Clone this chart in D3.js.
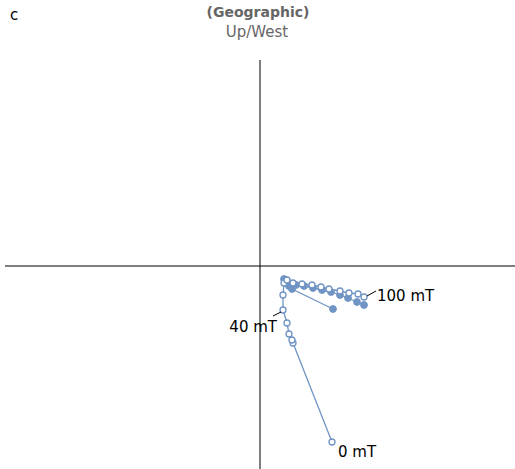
<!DOCTYPE html>
<meta charset="utf-8">
<html>
<head>
<title>Zijderveld</title>
<script src="https://d3js.org/d3.v7.min.js"></script>
<style>
body { margin: 0; background: #fff; }
text { font-family: "DejaVu Sans", sans-serif; }
</style>
</head>
<body>
<div id="chart"></div>
<script>
// demagnetisation steps (mT)
var steps = [0, 10, 15, 20, 30, 40, 45, 50, 55, 60, 65, 70, 75, 80, 85, 90, 95, 100];
// horizontal projection (filled): x = East, y = North
var horizX = [7.3, 3.2, 2.9, 2.6, 2.5, 2.4, 2.5, 2.7, 3.1, 3.6, 4.4, 5.3, 6.2, 7.1, 8.0, 8.8, 9.7, 10.4];
var horizY = [-4.3, -2.3, -2.0, -1.7, -1.5, -1.3, -1.4, -1.5, -1.8, -1.9, -2.0, -2.2, -2.4, -2.6, -2.9, -3.2, -3.6, -3.9];
// vertical projection (open): x = East, y = Up
var vertX = [7.2, 3.3, 3.2, 2.9, 2.7, 2.3, 2.3, 2.4, 2.7, 3.3, 4.2, 5.2, 6.1, 6.9, 8.0, 8.9, 9.8, 10.4];
var vertY = [-17.6, -7.7, -7.4, -6.8, -5.7, -4.4, -2.9, -1.7, -1.4, -1.7, -1.8, -1.9, -2.1, -2.3, -2.5, -2.7, -2.8, -3.1];
// step labels
var labelSteps = [0, 40, 100];
var labelText = ["0 mT", "40 mT", "100 mT"];

var width = 515, height = 469;
var colour = "#7094c4";

var svg = d3.select("#chart").append("svg")
  .attr("width", width).attr("height", height);

var x = d3.scaleLinear().domain([-25.5, 25.5]).range([5, 515]);
var y = d3.scaleLinear().domain([20.6, -20.3]).range([60, 469]);

// axes
svg.append("line")
  .attr("x1", x(-25.5)).attr("x2", x(25.5))
  .attr("y1", y(0)).attr("y2", y(0))
  .attr("stroke", "#000").attr("stroke-width", 1);
svg.append("line")
  .attr("x1", x(0)).attr("x2", x(0))
  .attr("y1", y(20.6)).attr("y2", y(-20.3))
  .attr("stroke", "#000").attr("stroke-width", 1);

// titles
svg.append("text")
  .attr("x", 10).attr("y", 20)
  .style("font-size", "15px").attr("fill", "#000")
  .text("c");
svg.append("text")
  .attr("x", 258).attr("y", 17)
  .attr("text-anchor", "middle")
  .style("font-size", "14px").style("font-weight", "bold").attr("fill", "#666")
  .text("(Geographic)");
svg.append("text")
  .attr("x", 257).attr("y", 37)
  .attr("text-anchor", "middle")
  .style("font-size", "15px").attr("fill", "#666")
  .text("Up/West");

var horiz = steps.map(function (s, i) { return { step: s, x: horizX[i], y: horizY[i] }; });
var vert = steps.map(function (s, i) { return { step: s, x: vertX[i], y: vertY[i] }; });

var line = d3.line().x(function (d) { return x(d.x); }).y(function (d) { return y(d.y); });

svg.append("path").datum(horiz)
  .attr("d", line).attr("fill", "none")
  .attr("stroke", colour).attr("stroke-width", 1.3);
svg.append("path").datum(vert)
  .attr("d", line).attr("fill", "none")
  .attr("stroke", colour).attr("stroke-width", 1.3);

svg.selectAll(".horiz").data(horiz).enter()
  .append("circle")
  .attr("cx", function (d) { return x(d.x); })
  .attr("cy", function (d) { return y(d.y); })
  .attr("r", 3.4)
  .attr("fill", colour).attr("stroke", colour);

svg.selectAll(".vert").data(vert).enter()
  .append("circle")
  .attr("cx", function (d) { return x(d.x); })
  .attr("cy", function (d) { return y(d.y); })
  .attr("r", 3)
  .attr("fill", "#fff").attr("stroke", colour).attr("stroke-width", 1.3);

// labels with leader lines on the vertical projection
var offsets = { 0: [6, 14, 0, 0], 40: [-10, 6, -4, 22], 100: [12, -6, 13, 4] };
labelSteps.forEach(function (s, i) {
  var d = vert[steps.indexOf(s)];
  var px = x(d.x), py = y(d.y);
  var o = offsets[s];
  if (s !== 0) {
    svg.append("line")
      .attr("x1", px + (s === 100 ? 3 : -2)).attr("y1", py + (s === 100 ? -1 : 2))
      .attr("x2", px + o[0]).attr("y2", py + o[1])
      .attr("stroke", "#000").attr("stroke-width", 1);
  }
  svg.append("text")
    .attr("x", s === 40 ? px - 6 : px + o[0] + (s === 100 ? 1 : 0))
    .attr("y", s === 0 ? py + 15 : py + o[3])
    .attr("text-anchor", s === 40 ? "end" : "start")
    .style("font-size", "15px").attr("fill", "#000")
    .text(labelText[i]);
});
</script>
</body>
</html>
